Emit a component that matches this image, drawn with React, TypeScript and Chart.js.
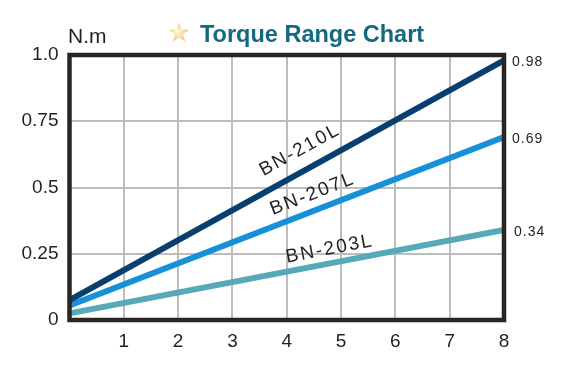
import React, { useEffect, useRef } from "react";
import { Chart, registerables } from "chart.js";

Chart.register(...registerables);

const torqueX = [0, 8];
const seriesNames = ["BN-210L", "BN-207L", "BN-203L"];
const bn210 = [0.075, 0.98];
const bn207 = [0.055, 0.69];
const bn203 = [0.025, 0.34];
const endLabels = ["0.98", "0.69", "0.34"];
const seriesColors = ["#083f6e", "#1790d9", "#56a9b8"];
const yTickLabels: Record<string, string> = { "0": "0", "0.25": "0.25", "0.5": "0.5", "0.75": "0.75", "1": "1.0" };
const labelAt = [4.42, 4.58, 4.84];
const labelOffset = [20, 16, 14];

const FONT = "'Liberation Sans', Arial, sans-serif";

const decorPlugin = {
  id: "decor",
  afterDatasetsDraw(chart: any) {
    const { ctx, chartArea, scales } = chart;
    const xs = scales.x;
    const ys = scales.y;
    ctx.save();
    // border
    ctx.strokeStyle = "#2a2422";
    ctx.lineWidth = 4.5;
    ctx.strokeRect(chartArea.left, chartArea.top, chartArea.right - chartArea.left, chartArea.bottom - chartArea.top);

    // line labels
    chart.data.datasets.forEach((ds: any, i: number) => {
      const p0 = ds.data[0];
      const p1 = ds.data[ds.data.length - 1];
      const px0 = xs.getPixelForValue(p0.x), py0 = ys.getPixelForValue(p0.y);
      const px1 = xs.getPixelForValue(p1.x), py1 = ys.getPixelForValue(p1.y);
      const ang = Math.atan2(py1 - py0, px1 - px0);
      const lx = labelAt[i];
      const lv = p0.y + (p1.y - p0.y) * (lx - p0.x) / (p1.x - p0.x);
      const cx = xs.getPixelForValue(lx);
      const cy = ys.getPixelForValue(lv);
      const off = labelOffset[i];
      const tx = cx + Math.sin(ang) * off;
      const ty = cy - Math.cos(ang) * off;
      ctx.save();
      ctx.translate(tx, ty);
      ctx.rotate(ang);
      ctx.fillStyle = "#231f20";
      ctx.font = `19px ${FONT}`;
      (ctx as any).letterSpacing = "2px";
      ctx.textAlign = "center";
      ctx.textBaseline = "middle";
      ctx.fillText(ds.label, 0, 0);
      ctx.restore();

      // end value labels
      ctx.fillStyle = "#231f20";
      ctx.font = `14px ${FONT}`;
      (ctx as any).letterSpacing = "1px";
      ctx.textAlign = "left";
      ctx.textBaseline = "middle";
      ctx.fillText(endLabels[i], chartArea.right + (i === 2 ? 10 : 8), py1 + 2);
    });

    // unit
    (ctx as any).letterSpacing = "0px";
    ctx.fillStyle = "#231f20";
    ctx.font = `21px ${FONT}`;
    ctx.textAlign = "left";
    ctx.textBaseline = "alphabetic";
    ctx.fillText("N.m", 68, 43);

    // star
    const sx = 179, sy = 33, R = 10.5, r = 4.4;
    ctx.beginPath();
    for (let k = 0; k < 10; k++) {
      const rad = k % 2 === 0 ? R : r;
      const a = -Math.PI / 2 + (k * Math.PI) / 5;
      const x = sx + rad * Math.cos(a);
      const y = sy + rad * Math.sin(a);
      if (k === 0) ctx.moveTo(x, y); else ctx.lineTo(x, y);
    }
    ctx.closePath();
    const g = ctx.createRadialGradient(sx - 2, sy - 2, 1, sx, sy, R);
    g.addColorStop(0, "#fff6dc");
    g.addColorStop(1, "#f3bd6a");
    ctx.fillStyle = g;
    ctx.fill();

    // title
    ctx.fillStyle = "#136a80";
    ctx.font = `bold 23.5px ${FONT}`;
    ctx.textAlign = "left";
    ctx.textBaseline = "alphabetic";
    ctx.fillText("Torque Range Chart", 200, 42);
    ctx.restore();
  },
};

export default function App() {
  const ref = useRef<HTMLCanvasElement>(null);
  useEffect(() => {
    const all = [bn210, bn207, bn203];
    const chart = new Chart(ref.current!, {
      type: "line",
      data: {
        datasets: all.map((vals, i) => ({
          label: seriesNames[i],
          data: torqueX.map((x, j) => ({ x, y: vals[j] })),
          borderColor: seriesColors[i],
          backgroundColor: seriesColors[i],
          borderWidth: 6,
          pointRadius: 0,
          fill: false,
          tension: 0,
        })),
      },
      options: {
        animation: false,
        responsive: false,
        maintainAspectRatio: false,
        layout: { padding: { top: 55, right: 60, left: 0, bottom: 0 } },
        plugins: { legend: { display: false }, tooltip: { enabled: false }, title: { display: false } },
        scales: {
          x: {
            type: "linear",
            min: 0,
            max: 8,
            ticks: {
              stepSize: 1,
              padding: 10,
              color: "#231f20",
              font: { family: FONT, size: 19 },
              callback: (v: any) => (v === 0 ? "" : String(v)),
            },
            grid: { color: "#bdbdbd", lineWidth: 2, drawTicks: false },
            border: { display: false },
            afterFit: (s: any) => { s.height = 48; },
          },
          y: {
            min: 0,
            max: 1,
            ticks: {
              stepSize: 0.25,
              padding: 11,
              color: "#231f20",
              font: { family: FONT, size: 19 },
              callback: (v: any) => yTickLabels[String(v)] ?? "",
            },
            grid: { color: "#bdbdbd", lineWidth: 2, drawTicks: false },
            border: { display: false },
            afterFit: (s: any) => { s.width = 69.5; },
          },
        },
      },
      plugins: [decorPlugin],
    } as any);
    return () => chart.destroy();
  }, []);
  return (
    <div style={{ position: "fixed", left: 0, top: 0, width: 564, height: 368, background: "#fff" }}>
      <canvas ref={ref} width={564} height={368} style={{ width: 564, height: 368 }} />
    </div>
  );
}
